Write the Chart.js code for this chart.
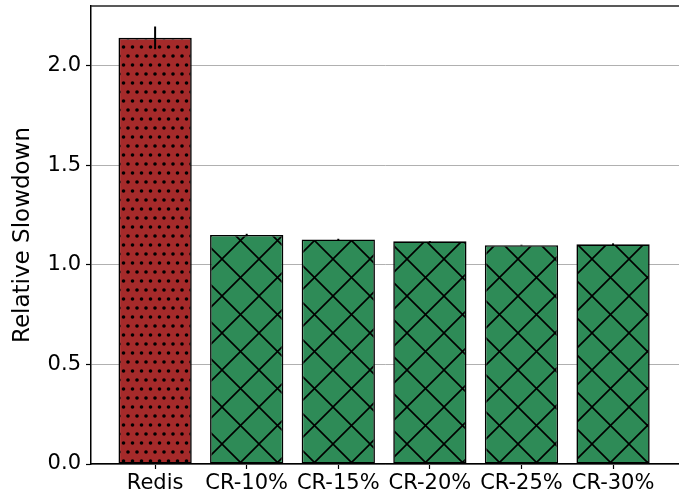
<!DOCTYPE html>
<html>
<head>
<meta charset="utf-8">
<script src="https://cdn.jsdelivr.net/npm/chart.js@4/dist/chart.umd.min.js"></script>
<style>
    html, body { margin: 0; padding: 0; background: #fff; }
    #slowdownChart { display: block; }
</style>
</head>
<body>
<canvas id="slowdownChart" width="679" height="497"></canvas>
<script>
const categories = ['Redis', 'CR-10%', 'CR-15%', 'CR-20%', 'CR-25%', 'CR-30%'];
const slowdown = [2.14, 1.150, 1.128, 1.118, 1.099, 1.103];
const slowdownErr = [0.057, 0.006, 0.003, 0.002, 0.002, 0.005];
const yTicks = [0, 0.5, 1.0, 1.5, 2.0];

// hatch fills, like matplotlib's '.' and 'x'
function dotPattern(base) {
    const c = document.createElement('canvas');
    c.width = 18;
    c.height = 18;
    const g = c.getContext('2d');
    g.fillStyle = base;
    g.fillRect(0, 0, 18, 18);
    g.fillStyle = '#000';
    [[2, 2], [11, 2], [6.5, 11], [15.5, 11]].forEach(function (p) {
        g.beginPath();
        g.arc(p[0], p[1], 1.8, 0, Math.PI * 2);
        g.fill();
    });
    return g.createPattern(c, 'repeat');
}

function crossPattern(base) {
    const s = 37;
    const c = document.createElement('canvas');
    c.width = s;
    c.height = s;
    const g = c.getContext('2d');
    g.fillStyle = base;
    g.fillRect(0, 0, s, s);
    g.strokeStyle = '#000';
    g.lineWidth = 1.6;
    g.beginPath();
    g.moveTo(-1, -1); g.lineTo(s + 1, s + 1);
    g.moveTo(s + 1, -1); g.lineTo(-1, s + 1);
    g.stroke();
    return g.createPattern(c, 'repeat');
}

const fills = categories.map(function (c, i) {
    return i === 0 ? dotPattern('#a52a2a') : crossPattern('#2e8b57');
});

const errorBars = {
    id: 'errorBars',
    afterDatasetsDraw: function (chart) {
        const ctx = chart.ctx;
        const x = chart.scales.x;
        const y = chart.scales.y;
        ctx.save();
        ctx.strokeStyle = '#000';
        ctx.lineWidth = 2;
        slowdown.forEach(function (v, i) {
            const px = x.getPixelForValue(i);
            ctx.beginPath();
            ctx.moveTo(px, y.getPixelForValue(v - slowdownErr[i]));
            ctx.lineTo(px, y.getPixelForValue(v + slowdownErr[i]));
            ctx.stroke();
        });
        // top spine (right one falls just outside the picture)
        const a = chart.chartArea;
        ctx.strokeStyle = '#222';
        ctx.lineWidth = 1.5;
        ctx.beginPath();
        ctx.moveTo(a.left, a.top);
        ctx.lineTo(a.right, a.top);
        ctx.stroke();
        ctx.restore();
    }
};

const font = { family: 'DejaVu Sans', size: 21 };

new Chart(document.getElementById('slowdownChart'), {
    type: 'bar',
    data: {
        datasets: [{
            data: slowdown.map(function (v, i) { return { x: i, y: v }; }),
            backgroundColor: fills,
            borderColor: '#000',
            borderWidth: 1.6,
            borderSkipped: false,
            barPercentage: 0.8,
            categoryPercentage: 1.0
        }]
    },
    options: {
        responsive: false,
        animation: false,
        layout: { padding: { top: 6, right: 0, left: 0, bottom: 0 } },
        plugins: {
            legend: { display: false },
            tooltip: { enabled: false }
        },
        scales: {
            x: {
                type: 'linear',
                offset: false,
                min: -0.7,
                max: 5.72,
                afterBuildTicks: function (scale) {
                    scale.ticks = categories.map(function (c, i) { return { value: i }; });
                },
                afterFit: function (scale) {
                    scale.height = 33;
                    scale.paddingLeft = 0;
                    scale.paddingRight = 0;
                },
                ticks: {
                    color: '#000',
                    font: font,
                    padding: 2,
                    maxRotation: 0,
                    autoSkip: false,
                    callback: function (value) { return categories[value]; }
                },
                grid: {
                    offset: false,
                    drawOnChartArea: false,
                    drawTicks: true,
                    tickLength: 5,
                    tickColor: '#000',
                    tickWidth: 1.2
                },
                border: { color: '#000', width: 1.5 }
            },
            y: {
                min: 0,
                max: 2.3,
                afterBuildTicks: function (scale) {
                    scale.ticks = yTicks.map(function (v) { return { value: v }; });
                },
                afterFit: function (scale) {
                    scale.width = 91;
                    scale.paddingTop = 0;
                    scale.paddingBottom = 0;
                },
                ticks: {
                    color: '#000',
                    font: font,
                    padding: 5,
                    callback: function (value) { return value.toFixed(1); }
                },
                grid: {
                    color: '#b0b0b0',
                    lineWidth: 1,
                    tickLength: 5,
                    tickColor: '#000',
                    tickWidth: 1.2
                },
                border: { color: '#000', width: 1.5 },
                title: {
                    display: true,
                    text: 'Relative Slowdown',
                    color: '#000',
                    font: { family: 'DejaVu Sans', size: 23 },
                    padding: { top: 9, bottom: 0 }
                }
            }
        }
    },
    plugins: [errorBars]
});
</script>
</body>
</html>
